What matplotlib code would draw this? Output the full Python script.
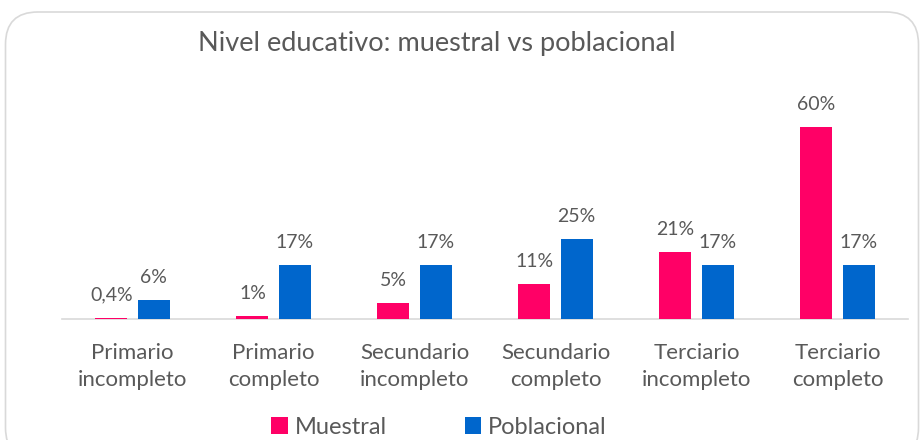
import matplotlib
matplotlib.use("Agg")
import matplotlib.pyplot as plt
from matplotlib.patches import FancyBboxPatch, Rectangle
import numpy as np

categories = ["Primario\nincompleto", "Primario\ncompleto", "Secundario\nincompleto",
              "Secundario\ncompleto", "Terciario\nincompleto", "Terciario\ncompleto"]
muestral = [0.4, 1, 5, 11, 21, 60]
poblacional = [6, 17, 17, 25, 17, 17]
muestral_labels = ["0,4%", "1%", "5%", "11%", "21%", "60%"]
poblacional_labels = ["6%", "17%", "17%", "25%", "17%", "17%"]
series_names = ["Muestral", "Poblacional"]

PINK = "#FF0066"
BLUE = "#0066CC"
TXT = "#595959"

plt.rcParams['font.family'] = ['Lato', 'DejaVu Sans']

fig = plt.figure(figsize=(9.24, 4.4), dpi=100)
fig.patch.set_facecolor("white")

# rounded border
border = FancyBboxPatch((5.5/924, -20/440), 913/924, (440-12+20)/440,
                        boxstyle="round,pad=0,rounding_size=0.035",
                        transform=fig.transFigure, facecolor="white",
                        edgecolor="#D9D9D9", linewidth=1.2, mutation_aspect=924/440,
                        zorder=-10)
fig.patches.append(border)

ax = fig.add_axes([62/924, 121/440, (908-62)/924, 230/440])
ax.set_facecolor("none")
ax.set_zorder(2)
x = np.arange(len(categories))
w = 0.227
off = 0.149
b1 = ax.bar(x - off, muestral, w, color=PINK, label=series_names[0], zorder=3)
b2 = ax.bar(x + off, poblacional, w, color=BLUE, label=series_names[1], zorder=3)

for xi, v, lab in zip(x - off, muestral, muestral_labels):
    ax.annotate(lab, (xi, v), xytext=(0, 10), textcoords="offset points",
                ha="center", va="bottom", fontsize=14, color=TXT)
for xi, v, lab in zip(x + off, poblacional, poblacional_labels):
    ax.annotate(lab, (xi, v), xytext=(0, 10), textcoords="offset points",
                ha="center", va="bottom", fontsize=14, color=TXT)

ax.set_xlim(-0.5, len(categories) - 0.5)
ax.set_ylim(0, 72)
ax.set_yticks([])
for s in ["left", "right", "top"]:
    ax.spines[s].set_visible(False)
ax.spines["bottom"].set_color("#D9D9D9")
ax.spines["bottom"].set_linewidth(1.2)
ax.set_xticks(x)
ax.set_xticklabels(categories, fontsize=16, color=TXT, linespacing=1.45)
ax.tick_params(axis="x", length=0, pad=17)

fig.text(437/924, 1 - 44/440, "Nivel educativo: muestral vs poblacional",
         ha="center", va="center", fontsize=19.5, color=TXT)

leg = fig.legend(handles=[b1, b2], labels=series_names, loc="center",
                 bbox_to_anchor=(439/924, 1 - 427/440), ncol=2, frameon=False,
                 fontsize=17, handlelength=0.7, handleheight=0.7,
                 columnspacing=3.3, handletextpad=0.3)
for t in leg.get_texts():
    t.set_color(TXT)

fig.savefig("out.png", dpi=100, facecolor="white")
